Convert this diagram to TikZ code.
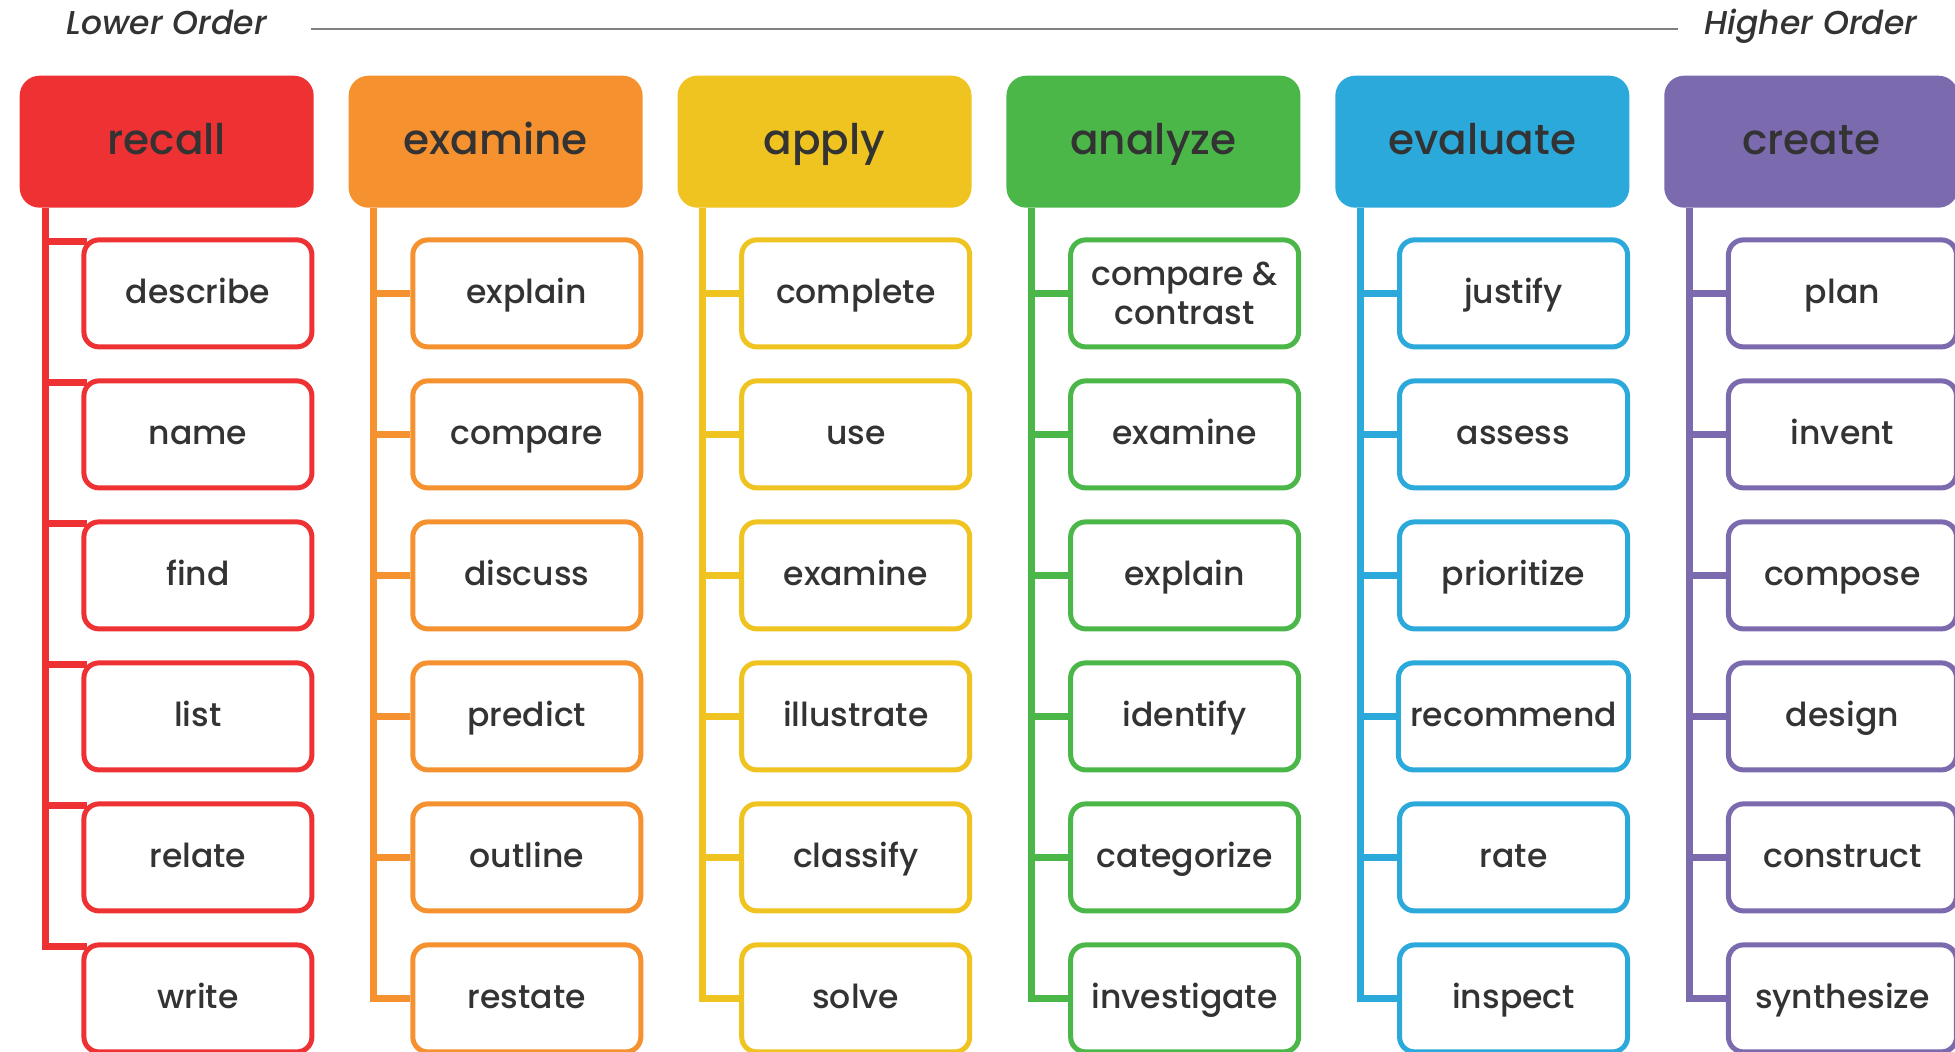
\documentclass[tikz,border=0pt]{standalone}
\usepackage{fontspec}
\setmainfont{Poppins}[UprightFont=* Medium, ItalicFont=* Medium Italic]
\usetikzlibrary{positioning, backgrounds}

\definecolor{rojo}{HTML}{EE3233}
\definecolor{naranja}{HTML}{F5922F}
\definecolor{amarillo}{HTML}{EFC420}
\definecolor{verde}{HTML}{4BB749}
\definecolor{azul}{HTML}{2BA9DB}
\definecolor{morado}{HTML}{7B6AAE}
\definecolor{texto}{HTML}{333333}

\begin{document}
\begin{tikzpicture}[
        node distance=0.29cm,
        % Encabezados de cada nivel
        cabecera/.style={
                rectangle,
                rounded corners=0.2cm,
                minimum width=2.94cm,
                minimum height=1.32cm,
                text centered,
                text height=0.3cm,
                text depth=0.05cm,
                font=\fontsize{12}{14}\selectfont,
                text=texto
            },
        % Cajas de verbos
        caja/.style={
                rectangle,
                rounded corners=0.15cm,
                draw=#1,
                line width=0.05cm,
                fill=white,
                minimum width=2.28cm,
                minimum height=1.07cm,
                align=center,
                text height=0.26cm,
                text depth=0.06cm,
                font=\fontsize{9.4}{11}\selectfont,
                text=texto
            },
        % Ramas
        rama/.style={
                draw=#1,
                line width=0.07cm
            },
        % Extremos de la escala
        nivel/.style={
                inner sep=0pt,
                font=\itshape\fontsize{9.4}{11}\selectfont,
                text=texto
            }
    ]

    \useasboundingbox (0,0) rectangle (19.55,-10.52);

    % Escala
    \node[nivel, anchor=base west] (bajo) at (0.66,-0.35) {Lower Order};
    \node[nivel, anchor=base east] (alto) at (19.18,-0.35) {Higher Order};
    \draw[gray, line width=0.02cm] ([xshift=0.44cm, yshift=0.06cm]bajo.base east) -- ([xshift=-0.26cm, yshift=0.06cm]alto.base west);

    % Encabezados
    \node[cabecera, fill=rojo, anchor=north west] (recall) at (0.19,-0.75) {recall};
    \node[cabecera, fill=naranja, right=0.335cm of recall] (examine) {examine};
    \node[cabecera, fill=amarillo, right=0.335cm of examine] (apply) {apply};
    \node[cabecera, fill=verde, right=0.335cm of apply] (analyze) {analyze};
    \node[cabecera, fill=azul, right=0.335cm of analyze] (evaluate) {evaluate};
    \node[cabecera, fill=morado, right=0.335cm of evaluate] (create) {create};

    % recall
    \node[caja=rojo, below=of recall.south east, anchor=north east] (rec1) {describe};
    \node[caja=rojo, below=of rec1] (rec2) {name};
    \node[caja=rojo, below=of rec2] (rec3) {find};
    \node[caja=rojo, below=of rec3] (rec4) {list};
    \node[caja=rojo, below=of rec4] (rec5) {relate};
    \node[caja=rojo, below=of rec5] (rec6) {write};

    % examine
    \node[caja=naranja, below=of examine.south east, anchor=north east] (exa1) {explain};
    \node[caja=naranja, below=of exa1] (exa2) {compare};
    \node[caja=naranja, below=of exa2] (exa3) {discuss};
    \node[caja=naranja, below=of exa3] (exa4) {predict};
    \node[caja=naranja, below=of exa4] (exa5) {outline};
    \node[caja=naranja, below=of exa5] (exa6) {restate};

    % apply
    \node[caja=amarillo, below=of apply.south east, anchor=north east] (app1) {complete};
    \node[caja=amarillo, below=of app1] (app2) {use};
    \node[caja=amarillo, below=of app2] (app3) {examine};
    \node[caja=amarillo, below=of app3] (app4) {illustrate};
    \node[caja=amarillo, below=of app4] (app5) {classify};
    \node[caja=amarillo, below=of app5] (app6) {solve};

    % analyze
    \node[caja=verde, text height=, text depth=, below=of analyze.south east, anchor=north east] (ana1) {compare \&\\contrast};
    \node[caja=verde, below=of ana1] (ana2) {examine};
    \node[caja=verde, below=of ana2] (ana3) {explain};
    \node[caja=verde, below=of ana3] (ana4) {identify};
    \node[caja=verde, below=of ana4] (ana5) {categorize};
    \node[caja=verde, below=of ana5] (ana6) {investigate};

    % evaluate
    \node[caja=azul, below=of evaluate.south east, anchor=north east] (eva1) {justify};
    \node[caja=azul, below=of eva1] (eva2) {assess};
    \node[caja=azul, below=of eva2] (eva3) {prioritize};
    \node[caja=azul, below=of eva3] (eva4) {recommend};
    \node[caja=azul, below=of eva4] (eva5) {rate};
    \node[caja=azul, below=of eva5] (eva6) {inspect};

    % create
    \node[caja=morado, below=of create.south east, anchor=north east] (cre1) {plan};
    \node[caja=morado, below=of cre1] (cre2) {invent};
    \node[caja=morado, below=of cre2] (cre3) {compose};
    \node[caja=morado, below=of cre3] (cre4) {design};
    \node[caja=morado, below=of cre4] (cre5) {construct};
    \node[caja=morado, below=of cre5] (cre6) {synthesize};

    % Ramas
    \begin{scope}[on background layer]
        \fill[white] (0,0) rectangle (19.55,-10.52);
        \foreach \n in {rec1,rec2,rec3,rec4,rec5,rec6}
            \draw[rama=rojo] ([xshift=0.26cm]recall.south west) |- ([shift={(0.06,-0.04)}]\n.north west);
        \foreach \n in {exa1,exa2,exa3,exa4,exa5,exa6}
            \draw[rama=naranja] ([xshift=0.26cm]examine.south west) |- (\n.west);
        \foreach \n in {app1,app2,app3,app4,app5,app6}
            \draw[rama=amarillo] ([xshift=0.26cm]apply.south west) |- (\n.west);
        \foreach \n in {ana1,ana2,ana3,ana4,ana5,ana6}
            \draw[rama=verde] ([xshift=0.26cm]analyze.south west) |- (\n.west);
        \foreach \n in {eva1,eva2,eva3,eva4,eva5,eva6}
            \draw[rama=azul] ([xshift=0.26cm]evaluate.south west) |- (\n.west);
        \foreach \n in {cre1,cre2,cre3,cre4,cre5,cre6}
            \draw[rama=morado] ([xshift=0.26cm]create.south west) |- (\n.west);
    \end{scope}

\end{tikzpicture}
\end{document}
